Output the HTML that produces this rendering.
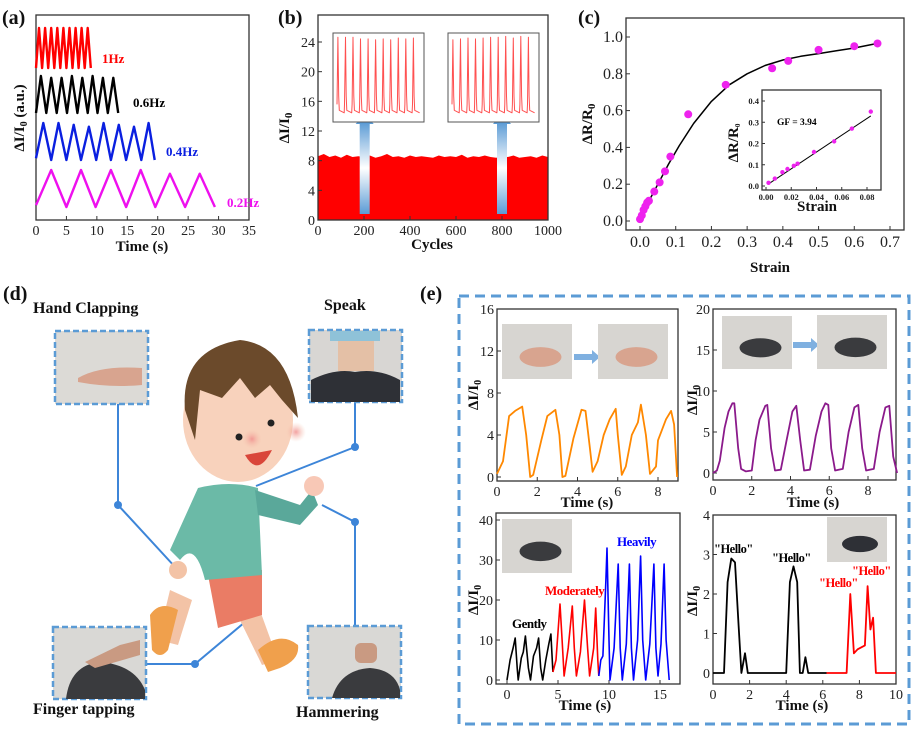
<!DOCTYPE html>
<html><head><meta charset="utf-8">
<style>
html,body{margin:0;padding:0;background:#fff;}
svg{display:block;font-family:"Liberation Serif",serif;}
.tk{font-size:14px;fill:#222;}
.tkc{font-size:16px;fill:#222;}
.tks{font-size:8.5px;fill:#222;font-weight:bold;}
.lb{font-weight:bold;font-size:15px;fill:#111;}
.pl{font-weight:bold;font-size:20px;fill:#111;}
.dl{font-weight:bold;font-size:16px;fill:#111;}
</style></head>
<body>
<svg id="fig" width="917" height="733" viewBox="0 0 917 733" xmlns="http://www.w3.org/2000/svg">
<defs>
<linearGradient id="arr" x1="0" y1="1" x2="0" y2="0"><stop offset="0" stop-color="#5b9bd5"/><stop offset="0.5" stop-color="#ffffff"/><stop offset="1" stop-color="#5b9bd5"/></linearGradient>
<radialGradient id="cheek"><stop offset="0" stop-color="#f08a8a" stop-opacity="0.8"/><stop offset="1" stop-color="#f5c6b0" stop-opacity="0"/></radialGradient>
</defs>
<text class="pl" x="2" y="24">(a)</text>
<text class="pl" x="278" y="24">(b)</text>
<text class="pl" x="578" y="24">(c)</text>
<text class="pl" x="3" y="300">(d)</text>
<text class="pl" x="420" y="300">(e)</text>

<g>
  <text class="dl" x="33" y="313">Hand Clapping</text>
  <text class="dl" x="324" y="310">Speak</text>
  <text class="dl" x="33" y="714">Finger tapping</text>
  <text class="dl" x="296" y="717">Hammering</text>
  <g stroke="#3d85d8" stroke-width="2" fill="none">
    <polyline points="118,404 118,505 176,568"/>
    <polyline points="355,402 355,447 256,486"/>
    <polyline points="322,505 355,522 355,626"/>
    <polyline points="146,664 195,664 251,617"/>
  </g>
  <g fill="#3d85d8">
    <circle cx="118" cy="505" r="4"/><circle cx="355" cy="447" r="4"/><circle cx="355" cy="522" r="4"/><circle cx="195" cy="664" r="4"/>
  </g>
  <g>
    <path d="M170 590 L158 640 L178 645 L192 600 Z" fill="#f3c3a6"/>
    <path d="M150 615 Q160 600 178 610 L168 650 Q160 660 152 650 Z" fill="#f0a04c"/>
    <path d="M235 610 L262 665 L278 660 L258 605 Z" fill="#f3c3a6"/>
    <path d="M258 650 Q280 630 298 645 Q300 660 280 668 L268 672 Z" fill="#f0a04c"/>
    <path d="M208 575 L262 570 L262 615 L218 628 Z" fill="#ea7c65"/>
    <path d="M198 488 Q230 480 258 488 L262 575 L205 580 Q195 540 180 560 L170 550 Z" fill="#6bbaa7"/>
    <path d="M255 490 L300 505 L312 490 L318 505 L300 525 L258 515 Z" fill="#5aa89a"/>
    <circle cx="314" cy="486" r="10" fill="#f8c8b6"/>
    <circle cx="178" cy="570" r="9" fill="#f3c3a6"/>
    <ellipse cx="238" cy="420" rx="55" ry="62" fill="#f8d2bc"/>
    <path d="M185 410 Q180 350 240 340 Q290 345 298 418 L282 400 L270 385 L255 398 L240 378 L222 398 L200 390 L195 440 Z" fill="#6b4a2b"/>
    <circle cx="252" cy="439" r="10" fill="url(#cheek)"/>
    <circle cx="296" cy="432" r="10" fill="url(#cheek)"/>
    <circle cx="239" cy="437" r="3.5" fill="#222"/>
    <circle cx="271" cy="423" r="3.5" fill="#222"/>
    <path d="M245 455 Q258 478 272 450 Z" fill="#d9463a"/>
  </g>
  <g><rect x="55" y="331" width="93" height="73" fill="#dcdad6" stroke="#5b9bd5" stroke-width="2.5" stroke-dasharray="6,3"/><path d="M78 378 Q100 365 142 368 L142 385 Q110 388 78 382 Z" fill="#d8a48f"/></g>
  <g><rect x="309" y="330" width="93" height="72" fill="#d8d6d3" stroke="#5b9bd5" stroke-width="2.5" stroke-dasharray="6,3"/><rect x="338" y="331" width="36" height="40" fill="#e4c0a6"/><path d="M311 402 L311 380 Q335 368 355 372 Q378 368 400 380 L400 402 Z" fill="#2e3036"/><rect x="330" y="331" width="50" height="10" fill="#8fc2d8"/></g>
  <g><rect x="53" y="627" width="93" height="72" fill="#d9d8d5" stroke="#5b9bd5" stroke-width="2.5" stroke-dasharray="6,3"/><path d="M66 699 Q70 665 100 662 Q135 665 145 690 L145 699 Z" fill="#3a3b3e"/><path d="M85 662 L120 645 L140 640 L140 655 L95 668 Z" fill="#c99a82"/></g>
  <g><rect x="308" y="626" width="93" height="72" fill="#d9d8d5" stroke="#5b9bd5" stroke-width="2.5" stroke-dasharray="6,3"/><path d="M332 698 Q340 670 370 668 Q395 670 400 690 L400 698 Z" fill="#3a3b3e"/><rect x="355" y="643" width="22" height="20" rx="6" fill="#c99a82"/></g>
</g>

<rect x="459" y="296" width="450" height="428" fill="none" stroke="#5b9bd5" stroke-width="3" stroke-dasharray="10,6"/>
<g id="charts"></g>
</svg>
<script>
// panel (a)
const a1Times=[0,0.5,1,1.5,2,2.5,3,3.5,4,4.5,5,5.5,6,6.5,7,7.5,8,8.5,9];
const a1Vals =[0,1,0,1,0,1,0,1,0,1,0,1,0,1,0,1,0,1,0];
const a2Times=[0,0.8,1.7,2.5,3.4,4.2,5.1,5.9,6.8,7.6,8.5,9.3,10.1,11,11.8,12.7,13.5];
const a2Vals =[0,1,0,0.95,0,0.95,0,1,0,0.95,0,1,0,0.95,0,0.95,0];
const a3Times=[0,1.2,2.5,3.7,5,6.2,7.4,8.7,9.9,11.1,12.3,13.6,14.8,16.1,17.3,18.5,19.5];
const a3Vals =[0.05,1,0,1,0,0.95,0,0.9,0,1,0,0.95,0,0.9,0,1,0];
const a4Times=[0,2.5,5,7.4,9.8,12.3,14.8,17.2,19.6,22,24.5,26.9,29.4];
const a4Vals =[0.05,1,0,1,0,1,0,1,0,0.9,0,0.9,0];
const aTicks=[0,5,10,15,20,25,30,35];
// panel (b)
const bCycles=[0,25,50,75,100,125,150,175,200,225,250,275,300,325,350,375,400,425,450,475,500,525,550,575,600,625,650,675,700,725,750,775,800,825,850,875,900,925,950,975,1000];
const bTop=[8.6,8.9,8.5,8.7,8.4,8.8,8.5,8.6,8.5,8.7,8.4,8.6,8.9,8.5,8.6,8.4,8.7,8.5,8.6,8.5,8.4,8.7,8.5,8.6,8.5,8.8,8.4,8.6,8.5,8.7,8.5,8.4,8.6,8.5,8.7,8.4,8.5,8.6,8.4,8.7,8.5];
const bXTicks=[0,200,400,600,800,1000];
const bYTicks=[0,4,8,12,16,20,24];
const bInsetPeaks1=[0.95,0.95,0.95,0.93,0.93,0.92,0.93,0.92,0.94,0.93,0.94];
const bInsetPeaks2=[0.92,0.93,0.94,0.93,0.94,0.95,0.95,0.96,0.94,0.96,0.95];
// panel (c)
const cStrain=[0,0.005,0.01,0.015,0.02,0.025,0.04,0.055,0.07,0.085,0.135,0.24,0.37,0.415,0.5,0.6,0.665];
const cDR=[0.01,0.03,0.06,0.08,0.1,0.11,0.16,0.21,0.27,0.35,0.58,0.74,0.83,0.87,0.93,0.95,0.965];
const cFitX=[0,0.02,0.05,0.08,0.11,0.15,0.2,0.25,0.3,0.35,0.4,0.45,0.5,0.55,0.6,0.665];
const cFitY=[0,0.09,0.2,0.31,0.41,0.53,0.65,0.74,0.8,0.845,0.875,0.895,0.91,0.925,0.94,0.965];
const cXTicks=[0,0.1,0.2,0.3,0.4,0.5,0.6,0.7];
const cYTicks=[0,0.2,0.4,0.6,0.8,1.0];
const ciStrain=[0.002,0.007,0.013,0.017,0.022,0.025,0.038,0.054,0.068,0.083];
const ciDR=[0.015,0.035,0.065,0.08,0.095,0.105,0.16,0.21,0.27,0.35];
const ciFitX=[0.002,0.083];
const ciFitY=[0.01,0.33];
const ciXTicks=[0,0.02,0.04,0.06,0.08];
const ciYTicks=[0,0.1,0.2,0.3,0.4];
// panel (e)
const e1T=[0,0.3,0.6,0.9,1.25,1.45,1.65,1.8,2.2,2.5,2.9,3.1,3.25,3.4,3.8,4.2,4.4,4.6,4.75,5,5.3,5.6,5.9,6.0,6.2,6.4,6.7,7.0,7.15,7.4,7.6,7.9,8.0,8.4,8.65,8.8,8.95];
const e1V=[0.3,1.5,5.8,6.3,6.7,4,0,0.2,3.5,5.8,6.4,4,0,0.1,3.7,6.4,6.3,3,0.5,1.5,4,5.5,6.5,4,0.2,1,4,5.2,6.9,4,0.3,1,3.5,5.5,6.3,5,0];
const e2T=[0,0.2,0.35,0.6,0.8,1.0,1.1,1.3,1.45,1.7,2.0,2.2,2.4,2.7,2.8,3.0,3.2,3.5,3.8,4.1,4.3,4.5,4.7,5.0,5.3,5.6,5.8,5.95,6.1,6.3,6.7,7.0,7.3,7.5,7.7,7.9,8.3,8.6,8.9,9.1,9.3,9.5];
const e2V=[0,0.3,1.5,5.5,7.5,8.5,8.5,3,0.5,0.2,0.3,4,6.5,8.2,8.3,3,0.3,0.4,4,7.5,8.2,4,0.3,0.4,4.5,7.5,8.5,8.3,3,0.3,0.5,5,8,8.3,3,0.3,0.5,5,8,8.2,2,0];
const e3GT=[0,0.3,0.6,0.8,1.0,1.1,1.4,1.6,1.8,2.1,2.3,2.6,2.9,3.1,3.3,3.5,3.8,4.1,4.3,4.5];
const e3GV=[0,5,8,10.5,3,0,5.5,7,11,3,0,6,8,10.5,3,0,5,9,11.5,2];
const e3MT=[4.5,4.8,5.2,5.4,5.6,6.0,6.4,6.6,6.8,7.2,7.6,7.9,8.1,8.5,8.7,8.9,9.0];
const e3MV=[2,5,19,10,1,8,18.5,8,1,7,20,8,1,8,18,5,1];
const e3HT=[9.0,9.2,9.4,9.7,9.8,10.0,10.1,10.5,10.9,11.1,11.3,11.7,12.0,12.2,12.4,12.8,13.1,13.3,13.6,14.0,14.4,14.6,14.8,15.1,15.4,15.6,15.9];
const e3HV=[1,5,6,25,33,10,0,8,29,8,0,9,29,8,0,10,31,10,0,9,29,8,1,9,29,10,0];
const e4BT=[0,0.6,0.8,1.0,1.2,1.4,1.55,1.75,1.9,4.0,4.2,4.4,4.6,4.75,4.9,5.05,5.2,6.2];
const e4BV=[0,0,2.3,2.9,2.8,1.2,0,0.5,0,0,2.3,2.7,2.3,0,0,0.4,0,0];
const e4RT=[6.2,7.3,7.5,7.7,7.9,8.3,8.45,8.6,8.75,8.9,10];
const e4RV=[0,0,2.0,0.5,0.6,0.7,2.2,1.1,1.4,0,0];

const NS='http://www.w3.org/2000/svg';
const root=document.getElementById('charts');
function mk(tag,attrs,parent,txt){const e=document.createElementNS(NS,tag);for(const k in attrs)e.setAttribute(k,attrs[k]);if(txt!==undefined)e.textContent=txt;(parent||root).appendChild(e);return e;}
function lin(d0,d1,r0,r1){return v=>r0+(v-d0)*(r1-r0)/(d1-d0);}
function pts(T,V,sx,sy){return T.map((t,i)=>sx(t).toFixed(1)+','+sy(V[i]).toFixed(1)).join(' ');}
function ticksX(g,vals,sx,y,cls,fmt,len){vals.forEach(v=>{const l=mk('line',{x1:sx(v),x2:sx(v),y1:y,y2:y-(len||4),stroke:'#333','stroke-width':1},g);const t=mk('text',{x:sx(v),y:y+(cls==='tks'?10:(cls==='tkc'?17:15)),'text-anchor':'middle',class:cls},g,fmt(v));});}
function ticksY(g,vals,sy,x,cls,fmt,len){vals.forEach(v=>{const l=mk('line',{x1:x,x2:x+(len||4),y1:sy(v),y2:sy(v),stroke:'#333','stroke-width':1},g);const t=mk('text',{x:x-3,y:sy(v)+(cls==='tks'?3:5),'text-anchor':'end',class:cls},g,fmt(v));});}
function box(g,x0,y0,x1,y1){const r=mk('rect',{x:x0,y:y0,width:x1-x0,height:y1-y0,fill:'none',stroke:'#333','stroke-width':1.3},g);}
function yTitle(g,x,y,html,size){const t=mk('text',{x:x,y:y,transform:`rotate(-90 ${x} ${y})`,'text-anchor':'middle',class:'lb','font-size':size||15},g);t.innerHTML=html;return t;}
function xTitle(g,x,y,s,size){const t=mk('text',{x:x,y:y,'text-anchor':'middle',class:'lb','font-size':size||15},g,s);return t;}
function line(g,T,V,sx,sy,col,w,name){const p=mk('polyline',{points:pts(T,V,sx,sy),fill:'none',stroke:col,'stroke-width':w||2,'stroke-linejoin':'round'},g);return p;}
const f0=v=>String(v);

// PANEL A
{const g=mk('g',{});
const sx=lin(0,35,36,249);
box(g,36,15,249,220);ticksX(g,aTicks,sx,220,'tk',f0);
const bands=[[a1Times,a1Vals,68,28,'#ff0000','wave-1hz'],[a2Times,a2Vals,113,76,'#000','wave-0.6hz'],[a3Times,a3Vals,160,123,'#0a1fe0','wave-0.4hz'],[a4Times,a4Vals,207,170,'#ee10ee','wave-0.2hz']];
bands.forEach(b=>{const sy=lin(0,1,b[2],b[3]);line(g,b[0],b[1],sx,sy,b[4],2.4,b[5]);});
const lbl=[['1Hz',102,63,'#ff0000'],['0.6Hz',133,107,'#000'],['0.4Hz',166,156,'#0a1fe0'],['0.2Hz',227,207,'#ee10ee']];
lbl.forEach(l=>{const t=mk('text',{x:l[1],y:l[2],fill:l[3],'font-weight':'bold','font-size':13},g,l[0]);});
yTitle(g,24,118,'ΔI/I<tspan font-size="10" dy="3">0</tspan><tspan dy="-3"> (a.u.)</tspan>',14);
xTitle(g,142,251,'Time (s)',15);}

// PANEL B
{const g=mk('g',{});
const sx=lin(0,1000,318,548), sy=lin(0,24,220,42);
let d=`M${sx(0)},${sy(0)} `+bCycles.map((c,i)=>`L${sx(c).toFixed(1)},${sy(bTop[i]).toFixed(1)}`).join(' ')+` L${sx(1000)},${sy(0)} Z`;
const a=mk('path',{d:d,fill:'#ff0000'},g);
box(g,318,15,548,220);ticksX(g,bXTicks,sx,220,'tk',f0);ticksY(g,bYTicks,sy,318,'tk',f0);
[[203,'arrow-200'],[800,'arrow-800']].forEach(ar=>{const r=mk('rect',{x:sx(ar[0])-5,y:122,width:10,height:92,fill:'url(#arr)'},g);const p=mk('polygon',{points:`${sx(ar[0])-9},124 ${sx(ar[0])+9},124 ${sx(ar[0])},113`,fill:'#5b9bd5'},g);});
[[333,424,bInsetPeaks1,'inset-cycles-200'],[448,539,bInsetPeaks2,'inset-cycles-800']].forEach(ins=>{
 const ig=mk('g',{},g);
 mk('rect',{x:ins[0],y:33,width:ins[1]-ins[0],height:89,fill:'#fff',stroke:'#555','stroke-width':1},ig);
 const n=ins[2].length, isx=lin(0,n,ins[0]+4,ins[1]-4), isy=lin(0,1,117,33);
 const T=[],V=[];ins[2].forEach((pk,i)=>{T.push(i,i+0.12,i+0.22,i+0.3,i+0.95);V.push(0.15,pk,0.25,0.08,0.05);});
 line(ig,T,V,isx,isy,'#ff5050',1,'inset-signal');});
yTitle(g,289,128,'ΔI/I<tspan font-size="11" dy="3">0</tspan>',16);
xTitle(g,432,249,'Cycles',15);}

// PANEL C
{const g=mk('g',{});
const sx=lin(0,0.7,640,890), sy=lin(0,1,221,37);
box(g,626,18,904,230);ticksX(g,cXTicks,sx,230,'tkc',v=>v.toFixed(1));ticksY(g,cYTicks,sy,626,'tkc',v=>v.toFixed(1));
line(g,cFitX,cFitY,sx,sy,'#000',1.5,'fit-curve');
cStrain.forEach((s,i)=>{const c=mk('circle',{cx:sx(s),cy:sy(cDR[i]),r:4,fill:'#ee22ee'},g);});
yTitle(g,592,124,'ΔR/R<tspan font-size="11" dy="3">0</tspan>',17);
xTitle(g,770,272,'Strain',16);
const ig=mk('g',{},g);
const ix=lin(0,0.08,766,867), iy=lin(0,0.4,186,101);
mk('rect',{x:727,y:88,width:156,height:128,fill:'#fff',stroke:'none'},ig);
box(ig,762,90,881,190);
ticksX(ig,ciXTicks,ix,190,'tks',v=>v.toFixed(2),3);ticksY(ig,ciYTicks,iy,762,'tks',v=>v.toFixed(1),3);
line(ig,ciFitX,ciFitY,ix,iy,'#000',1,'inset-fit-line');
ciStrain.forEach((s,i)=>{const c=mk('circle',{cx:ix(s),cy:iy(ciDR[i]),r:2.2,fill:'#ee22ee'},ig);});
const gf=mk('text',{x:777,y:125,'font-weight':'bold','font-size':9.5},ig,'GF = 3.94');
yTitle(ig,738,143,'ΔR/R<tspan font-size="7" dy="2">0</tspan>',9);
xTitle(ig,817,211,'Strain',9);}

// PANEL E
function photo(g,x,y,w,h,col,name){const r=mk('rect',{x:x,y:y,width:w,height:h,fill:'#d7d5d1'},g);const s=mk('ellipse',{cx:x+w*0.55,cy:y+h*0.6,rx:w*0.3,ry:h*0.18,fill:col},g);}
function miniArrow(g,x,y,name){const p=mk('polygon',{points:`${x},${y-3} ${x+18},${y-3} ${x+18},${y-7} ${x+26},${y} ${x+18},${y+7} ${x+18},${y+3} ${x},${y+3}`,fill:'#7fb0e0'},g);}
{const g=mk('g',{});
const sx=lin(0,8,497,658), sy=lin(0,16,477,309);
box(g,497,309,678,481);ticksX(g,[0,2,4,6,8],sx,481,'tk',f0);ticksY(g,[0,4,8,12,16],sy,497,'tk',f0);
photo(g,502,324,70,55,'#d8a48f','photo-clap-open');miniArrow(g,574,357,'clap-arrow');photo(g,598,324,70,55,'#d8a48f','photo-clap-closed');
line(g,e1T,e1V,sx,sy,'#ff8800',1.8,'clapping-signal');
yTitle(g,478,395,'ΔI/I<tspan font-size="10" dy="3">0</tspan>',15);xTitle(g,587,507,'Time (s)',14);}
{const g=mk('g',{});
const sx=lin(0,8,713,868), sy=lin(0,20,473,309);
box(g,713,309,896,480);ticksX(g,[0,2,4,6,8],sx,480,'tk',f0);ticksY(g,[0,5,10,15,20],sy,713,'tk',f0);
photo(g,722,316,70,53,'#3a3b3e','photo-fist-up');miniArrow(g,793,345,'hammer-arrow');photo(g,817,315,70,54,'#3a3b3e','photo-fist-down');
line(g,e2T,e2V,sx,sy,'#8b1a8b',1.8,'hammering-signal');
yTitle(g,697,400,'ΔI/I<tspan font-size="10" dy="3">0</tspan>',15);xTitle(g,813,507,'Time (s)',14);}
{const g=mk('g',{});
const sx=lin(0,15,507,660), sy=lin(0,40,680,520);
box(g,496,513,680,684);ticksX(g,[0,5,10,15],sx,684,'tk',f0);ticksY(g,[0,10,20,30,40],sy,496,'tk',f0);
photo(g,502,519,70,54,'#3a3b3e','photo-tap');
line(g,e3GT,e3GV,sx,sy,'#000',1.6,'gently-signal');line(g,e3MT,e3MV,sx,sy,'#ff0000',1.6,'moderately-signal');line(g,e3HT,e3HV,sx,sy,'#0000ff',1.6,'heavily-signal');
[['Gently',512,628,'#000'],['Moderately',545,595,'#ff0000'],['Heavily',617,546,'#0000ff']].forEach(l=>{const t=mk('text',{x:l[1],y:l[2],fill:l[3],'font-weight':'bold','font-size':13,'letter-spacing':'-0.5'},g,l[0]);});
yTitle(g,478,600,'ΔI/I<tspan font-size="10" dy="3">0</tspan>',15);xTitle(g,585,710,'Time (s)',14);}
{const g=mk('g',{});
const sx=lin(0,10,713,896), sy=lin(0,4,673,515);
box(g,713,515,896,684);ticksX(g,[0,2,4,6,8,10],sx,684,'tk',f0);ticksY(g,[0,1,2,3,4],sy,713,'tk',f0);
photo(g,827,517,60,45,'#2e3036','photo-neck');
line(g,e4BT,e4BV,sx,sy,'#000',1.8,'hello-signal-black');line(g,e4RT,e4RV,sx,sy,'#ff0000',1.8,'hello-signal-red');
[['"Hello"',714,553,'#000'],['"Hello"',772,562,'#000'],['"Hello"',819,587,'#ff0000'],['"Hello"',852,575,'#ff0000']].forEach(l=>{const t=mk('text',{x:l[1],y:l[2],fill:l[3],'font-weight':'bold','font-size':12.5,'letter-spacing':'-0.5'},g,l[0]);});
yTitle(g,697,601,'ΔI/I<tspan font-size="10" dy="3">0</tspan>',15);xTitle(g,802,710,'Time (s)',14);}
</script>
</body></html>
